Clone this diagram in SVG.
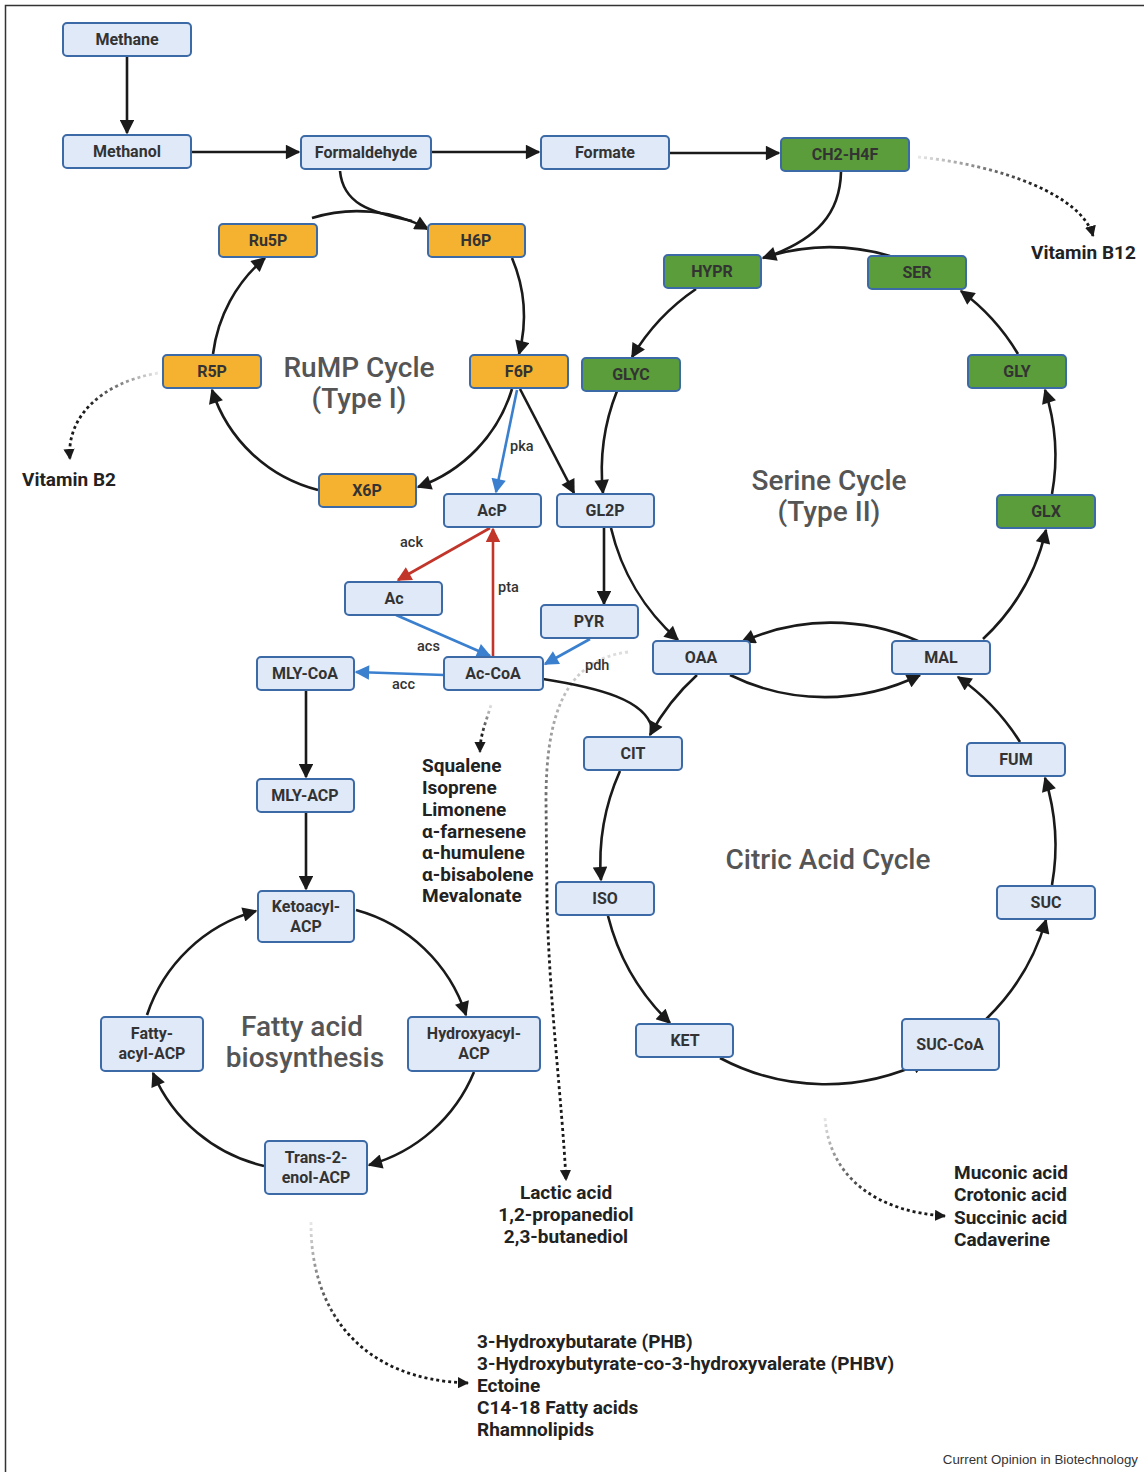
<svg xmlns="http://www.w3.org/2000/svg" width="1144" height="1472" viewBox="0 0 1144 1472">
<style>
.n rect{fill:#e0e9f8;stroke:#3c6aa6;stroke-width:2}
.o rect{fill:#f5b130;stroke:#3c6aa6;stroke-width:2}
.g rect{fill:#5b9d3a;stroke:#3c6aa6;stroke-width:2}
.n text,.o text,.g text{font-family:Roboto,"Liberation Sans",sans-serif;font-weight:700;font-size:16px;fill:#333;text-anchor:middle}
.k{fill:none;stroke:#1a1a1a;stroke-width:2.6}
.b{fill:none;stroke:#3a80cf;stroke-width:2.6}
.r{fill:none;stroke:#c1352b;stroke-width:2.6}
.d{fill:none;stroke-width:2.8;stroke-dasharray:3 3}
.t{font-family:Roboto,"Liberation Sans",sans-serif;font-weight:500;font-size:28px;fill:#555;text-anchor:middle}
.l{font-family:Roboto,"Liberation Sans",sans-serif;font-weight:700;font-size:19px;fill:#222}
.s{font-family:Roboto,"Liberation Sans",sans-serif;font-weight:500;font-size:14.5px;fill:#333}
</style>
<defs>
<marker id="ak" viewBox="0 0 10 10" refX="9" refY="5" markerWidth="6.2" markerHeight="5.6" orient="auto" markerUnits="strokeWidth"><path d="M0,0 L10,5 L0,10 z" fill="#1a1a1a"/></marker>
<marker id="ab" viewBox="0 0 10 10" refX="9" refY="5" markerWidth="6.2" markerHeight="5.6" orient="auto" markerUnits="strokeWidth"><path d="M0,0 L10,5 L0,10 z" fill="#3a80cf"/></marker>
<marker id="ar" viewBox="0 0 10 10" refX="9" refY="5" markerWidth="6.2" markerHeight="5.6" orient="auto" markerUnits="strokeWidth"><path d="M0,0 L10,5 L0,10 z" fill="#c1352b"/></marker>
<marker id="ad" viewBox="0 0 10 10" refX="9" refY="5" markerWidth="4" markerHeight="4" orient="auto" markerUnits="strokeWidth"><path d="M0,0 L10,5 L0,10 z" fill="#1a1a1a"/></marker>
<linearGradient id="gF" gradientUnits="userSpaceOnUse" x1="340" y1="170" x2="370" y2="212"><stop offset="0" stop-color="#1a1a1a" stop-opacity="0.1"/><stop offset="1" stop-color="#1a1a1a"/></linearGradient>
<linearGradient id="gC" gradientUnits="userSpaceOnUse" x1="840" y1="172" x2="810" y2="240"><stop offset="0" stop-color="#1a1a1a" stop-opacity="0.1"/><stop offset="1" stop-color="#1a1a1a"/></linearGradient>
<linearGradient id="gA" gradientUnits="userSpaceOnUse" x1="543" y1="678" x2="620" y2="700"><stop offset="0" stop-color="#1a1a1a" stop-opacity="0.1"/><stop offset="1" stop-color="#1a1a1a"/></linearGradient>
<linearGradient id="gB12" gradientUnits="userSpaceOnUse" x1="918" y1="157" x2="1040" y2="190"><stop offset="0" stop-color="#1a1a1a" stop-opacity="0.1"/><stop offset="1" stop-color="#1a1a1a"/></linearGradient>
<linearGradient id="gB2" gradientUnits="userSpaceOnUse" x1="158" y1="373" x2="90" y2="410"><stop offset="0" stop-color="#1a1a1a" stop-opacity="0.1"/><stop offset="1" stop-color="#1a1a1a"/></linearGradient>
<linearGradient id="gSq" gradientUnits="userSpaceOnUse" x1="490" y1="704" x2="482" y2="735"><stop offset="0" stop-color="#1a1a1a" stop-opacity="0.1"/><stop offset="1" stop-color="#1a1a1a"/></linearGradient>
<linearGradient id="gLa" gradientUnits="userSpaceOnUse" x1="0" y1="655" x2="0" y2="900"><stop offset="0" stop-color="#1a1a1a" stop-opacity="0.15"/><stop offset="1" stop-color="#1a1a1a"/></linearGradient>
<linearGradient id="gMu" gradientUnits="userSpaceOnUse" x1="825" y1="1118" x2="870" y2="1200"><stop offset="0" stop-color="#1a1a1a" stop-opacity="0.1"/><stop offset="1" stop-color="#1a1a1a"/></linearGradient>
<linearGradient id="gPh" gradientUnits="userSpaceOnUse" x1="311" y1="1222" x2="330" y2="1330"><stop offset="0" stop-color="#1a1a1a" stop-opacity="0.1"/><stop offset="1" stop-color="#1a1a1a"/></linearGradient>
</defs>
<rect width="1144" height="1472" fill="#fff"/>
<path d="M5.5 1472 V5.5 H1144" fill="none" stroke="#333" stroke-width="1.5"/>

<g id="connectors">
<path class="k" d="M127 57 V133" marker-end="url(#ak)"/>
<path class="k" d="M192 152 H299" marker-end="url(#ak)"/>
<path class="k" d="M432 152 H539" marker-end="url(#ak)"/>
<path class="k" d="M670 153 H779" marker-end="url(#ak)"/>
<path class="d" stroke="url(#gB12)" d="M918 157 C1000 165 1082 195 1093 236" marker-end="url(#ad)"/>
<path class="k" d="M312 218 A150 150 0 0 1 428 229" marker-end="url(#ak)"/>
<path class="k" stroke="url(#gF)" d="M340 171 C343 203 368 212 412 221"/>
<path class="k" d="M512 258 A150 150 0 0 1 519 354" marker-end="url(#ak)"/>
<path class="k" d="M512 389 A150 150 0 0 1 418 487" marker-end="url(#ak)"/>
<path class="k" d="M318 490 A150 150 0 0 1 212 390" marker-end="url(#ak)"/>
<path class="k" d="M213 354 A150 150 0 0 1 265 258" marker-end="url(#ak)"/>
<path class="d" stroke="url(#gB2)" d="M158 373 C100 383 66 418 70 459" marker-end="url(#ad)"/>
<path class="b" d="M517 390 L496 492" marker-end="url(#ab)"/>
<path class="k" d="M520 389 L574 493" marker-end="url(#ak)"/>
<path class="k" d="M890 256 A215 215 0 0 0 763 258" marker-end="url(#ak)"/>
<path class="k" stroke="url(#gC)" d="M841 172 C840 215 815 238 775 254"/>
<path class="k" d="M696 289 A215 215 0 0 0 632 357" marker-end="url(#ak)"/>
<path class="k" d="M617 391 A215 215 0 0 0 603 493" marker-end="url(#ak)"/>
<path class="k" d="M611 528 A215 215 0 0 0 678 640" marker-end="url(#ak)"/>
<path class="k" d="M604 528 V604" marker-end="url(#ak)"/>
<path class="k" d="M918 641 A215 215 0 0 0 742 642" marker-end="url(#ak)"/>
<path class="k" d="M730 675 A215 215 0 0 0 920 675" marker-end="url(#ak)"/>
<path class="k" d="M983 639 A215 215 0 0 0 1046 530" marker-end="url(#ak)"/>
<path class="k" d="M1052 494 A215 215 0 0 0 1045 390" marker-end="url(#ak)"/>
<path class="k" d="M1018 354 A215 215 0 0 0 961 291" marker-end="url(#ak)"/>
<path class="k" d="M697 675 A225 225 0 0 0 650 735" marker-end="url(#ak)"/>
<path class="k" stroke="url(#gA)" d="M543 679 C600 688 645 700 652 728"/>
<path class="k" d="M620 771 A225 225 0 0 0 601 880" marker-end="url(#ak)"/>
<path class="k" d="M608 916 A225 225 0 0 0 670 1023" marker-end="url(#ak)"/>
<path class="k" d="M720 1058 A225 225 0 0 0 925 1061" marker-end="url(#ak)"/>
<path class="k" d="M983 1022 A225 225 0 0 0 1046 920" marker-end="url(#ak)"/>
<path class="k" d="M1052 885 A225 225 0 0 0 1045 778" marker-end="url(#ak)"/>
<path class="k" d="M1020 742 A225 225 0 0 0 958 677" marker-end="url(#ak)"/>
<path class="r" d="M490 528 L398 580" marker-end="url(#ar)"/>
<path class="r" d="M493 657 V529" marker-end="url(#ar)"/>
<path class="b" d="M396 615 L490 656" marker-end="url(#ab)"/>
<path class="b" d="M590 639 L545 664" marker-end="url(#ab)"/>
<path class="b" d="M444 675 L356 672" marker-end="url(#ab)"/>
<path class="d" stroke="url(#gSq)" d="M491 705 C486 722 480 735 480 752" marker-end="url(#ad)"/>
<path class="d" stroke="url(#gLa)" d="M628 652 C565 660 546 715 546 800 L547 900 C549 1000 562 1100 566 1180" marker-end="url(#ad)"/>
<path class="k" d="M306 691 V777" marker-end="url(#ak)"/>
<path class="k" d="M306 813 V889" marker-end="url(#ak)"/>
<path class="k" d="M356 910 A160 160 0 0 1 466 1015" marker-end="url(#ak)"/>
<path class="k" d="M474 1072 A160 160 0 0 1 369 1165" marker-end="url(#ak)"/>
<path class="k" d="M264 1166 A160 160 0 0 1 153 1073" marker-end="url(#ak)"/>
<path class="k" d="M147 1015 A160 160 0 0 1 256 911" marker-end="url(#ak)"/>
<path class="d" stroke="url(#gMu)" d="M825 1118 C830 1180 880 1212 945 1216" marker-end="url(#ad)"/>
<path class="d" stroke="url(#gPh)" d="M311 1222 C310 1310 360 1380 468 1383" marker-end="url(#ad)"/>
</g>

<g id="methane" class="n"><rect x="63" y="23" width="128" height="33" rx="4"/><text x="127" y="45">Methane</text></g>
<g id="methanol" class="n"><rect x="63" y="135" width="128" height="33" rx="4"/><text x="127" y="157">Methanol</text></g>
<g id="formaldehyde" class="n"><rect x="301" y="136" width="130" height="33" rx="4"/><text x="366" y="158">Formaldehyde</text></g>
<g id="formate" class="n"><rect x="541" y="136" width="128" height="33" rx="4"/><text x="605" y="158">Formate</text></g>
<g id="ch2h4f" class="g"><rect x="781" y="138" width="128" height="33" rx="4"/><text x="845" y="160">CH2-H4F</text></g>
<g id="ru5p" class="o"><rect x="219" y="224" width="98" height="33" rx="4"/><text x="268" y="246">Ru5P</text></g>
<g id="h6p" class="o"><rect x="428" y="224" width="97" height="33" rx="4"/><text x="476" y="246">H6P</text></g>
<g id="r5p" class="o"><rect x="163" y="355" width="98" height="33" rx="4"/><text x="212" y="377">R5P</text></g>
<g id="f6p" class="o"><rect x="470" y="355" width="98" height="33" rx="4"/><text x="519" y="377">F6P</text></g>
<g id="x6p" class="o"><rect x="319" y="474" width="97" height="33" rx="4"/><text x="367" y="496">X6P</text></g>
<g id="hypr" class="g"><rect x="664" y="255" width="97" height="33" rx="4"/><text x="712" y="277">HYPR</text></g>
<g id="ser" class="g"><rect x="868" y="256" width="98" height="33" rx="4"/><text x="917" y="278">SER</text></g>
<g id="glyc" class="g"><rect x="582" y="358" width="98" height="33" rx="4"/><text x="631" y="380">GLYC</text></g>
<g id="gly" class="g"><rect x="968" y="355" width="98" height="33" rx="4"/><text x="1017" y="377">GLY</text></g>
<g id="glx" class="g"><rect x="997" y="495" width="98" height="33" rx="4"/><text x="1046" y="517">GLX</text></g>
<g id="acp" class="n"><rect x="444" y="494" width="97" height="33" rx="4"/><text x="492" y="516">AcP</text></g>
<g id="gl2p" class="n"><rect x="557" y="494" width="97" height="33" rx="4"/><text x="605" y="516">GL2P</text></g>
<g id="ac" class="n"><rect x="345" y="582" width="97" height="33" rx="4"/><text x="394" y="604">Ac</text></g>
<g id="pyr" class="n"><rect x="541" y="605" width="97" height="33" rx="4"/><text x="589" y="627">PYR</text></g>
<g id="oaa" class="n"><rect x="653" y="641" width="97" height="33" rx="4"/><text x="701" y="663">OAA</text></g>
<g id="mal" class="n"><rect x="892" y="641" width="98" height="33" rx="4"/><text x="941" y="663">MAL</text></g>
<g id="accoa" class="n"><rect x="444" y="657" width="99" height="33" rx="4"/><text x="493" y="679">Ac-CoA</text></g>
<g id="mlycoa" class="n"><rect x="257" y="657" width="97" height="33" rx="4"/><text x="305" y="679">MLY-CoA</text></g>
<g id="cit" class="n"><rect x="584" y="737" width="98" height="33" rx="4"/><text x="633" y="759">CIT</text></g>
<g id="fum" class="n"><rect x="967" y="743" width="98" height="33" rx="4"/><text x="1016" y="765">FUM</text></g>
<g id="mlyacp" class="n"><rect x="257" y="779" width="97" height="33" rx="4"/><text x="305" y="801">MLY-ACP</text></g>
<g id="iso" class="n"><rect x="556" y="882" width="98" height="33" rx="4"/><text x="605" y="904">ISO</text></g>
<g id="suc" class="n"><rect x="997" y="886" width="98" height="33" rx="4"/><text x="1046" y="908">SUC</text></g>
<g id="ketoacyl" class="n"><rect x="258" y="891" width="96" height="51" rx="4"/><text x="306" y="912">Ketoacyl-</text><text x="306" y="932">ACP</text></g>
<g id="fattyacyl" class="n"><rect x="101" y="1017" width="102" height="54" rx="4"/><text x="152" y="1039">Fatty-</text><text x="152" y="1059">acyl-ACP</text></g>
<g id="hydroxyacyl" class="n"><rect x="408" y="1017" width="132" height="54" rx="4"/><text x="474" y="1039">Hydroxyacyl-</text><text x="474" y="1059">ACP</text></g>
<g id="ket" class="n"><rect x="636" y="1024" width="97" height="33" rx="4"/><text x="685" y="1046">KET</text></g>
<g id="succoa" class="n"><rect x="902" y="1019" width="97" height="51" rx="4"/><text x="950" y="1050">SUC-CoA</text></g>
<g id="trans" class="n"><rect x="265" y="1141" width="102" height="53" rx="4"/><text x="316" y="1163">Trans-2-</text><text x="316" y="1183">enol-ACP</text></g>

<g id="labels">
<text class="t" x="359" y="377">RuMP Cycle</text>
<text class="t" x="359" y="408">(Type I)</text>
<text class="t" x="829" y="490">Serine Cycle</text>
<text class="t" x="829" y="521">(Type II)</text>
<text class="t" x="828" y="869">Citric Acid Cycle</text>
<text class="t" x="302" y="1036">Fatty acid</text>
<text class="t" x="305" y="1067">biosynthesis</text>
<text class="s" x="510" y="451">pka</text>
<text class="s" x="400" y="547">ack</text>
<text class="s" x="498" y="592">pta</text>
<text class="s" x="417" y="651">acs</text>
<text class="s" x="392" y="689">acc</text>
<text class="s" x="585" y="670">pdh</text>
<text class="l" x="1031" y="259">Vitamin B12</text>
<text class="l" x="22" y="486">Vitamin B2</text>
<text class="l" x="422" y="772">Squalene</text>
<text class="l" x="422" y="794">Isoprene</text>
<text class="l" x="422" y="816">Limonene</text>
<text class="l" x="422" y="838">α-farnesene</text>
<text class="l" x="422" y="859">α-humulene</text>
<text class="l" x="422" y="881">α-bisabolene</text>
<text class="l" x="422" y="902">Mevalonate</text>
<text class="l" x="566" y="1199" text-anchor="middle">Lactic acid</text>
<text class="l" x="566" y="1221" text-anchor="middle">1,2-propanediol</text>
<text class="l" x="566" y="1243" text-anchor="middle">2,3-butanediol</text>
<text class="l" x="954" y="1179">Muconic acid</text>
<text class="l" x="954" y="1201">Crotonic acid</text>
<text class="l" x="954" y="1224">Succinic acid</text>
<text class="l" x="954" y="1246">Cadaverine</text>
<text class="l" x="477" y="1348">3-Hydroxybutarate (PHB)</text>
<text class="l" x="477" y="1370">3-Hydroxybutyrate-co-3-hydroxyvalerate (PHBV)</text>
<text class="l" x="477" y="1392">Ectoine</text>
<text class="l" x="477" y="1414">C14-18 Fatty acids</text>
<text class="l" x="477" y="1436">Rhamnolipids</text>
<text x="1138" y="1464" text-anchor="end" font-family="'Liberation Sans',Arial,sans-serif" font-size="13.3" fill="#333">Current Opinion in Biotechnology</text>
</g>
</svg>
